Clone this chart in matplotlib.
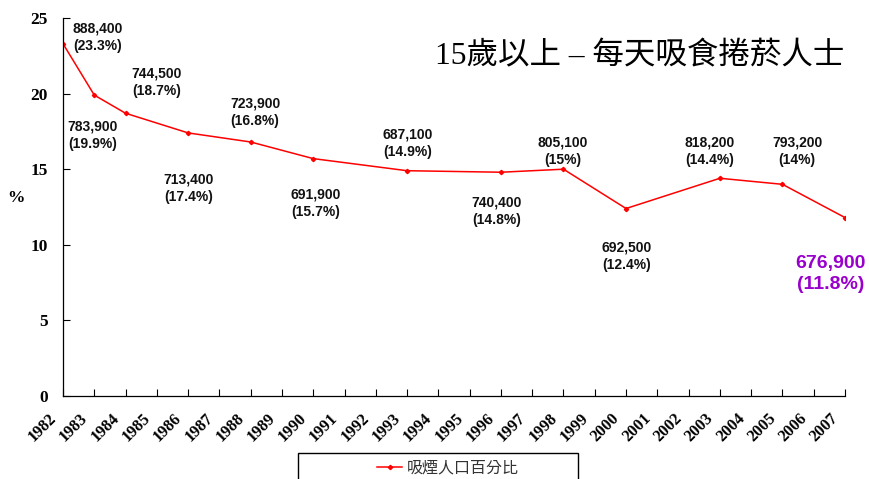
import numpy as np
import matplotlib
matplotlib.use("Agg")
import matplotlib.pyplot as plt
from matplotlib.patches import Rectangle

years = [str(y) for y in range(1982, 2008)]
survey_years = ['1982', '1983', '1984', '1986', '1988', '1990', '1993',
                '1996', '1998', '2000', '2003', '2005', '2007']
pct = [23.3, 19.9, 18.7, 17.4, 16.8, 15.7, 14.9, 14.8, 15.0, 12.4, 14.4, 14.0, 11.8]
smokers = ['888,400', '783,900', '744,500', '713,400', '723,900', '691,900',
           '687,100', '740,400', '805,100', '692,500', '818,200', '793,200',
           '676,900']
pct_txt = ['23.3%', '19.9%', '18.7%', '17.4%', '16.8%', '15.7%', '14.9%',
           '14.8%', '15%', '12.4%', '14.4%', '14%', '11.8%']
# label centres (category index, value)
label_pos = [(1.12, 23.74), (0.96, 17.26), (3.0, 20.77), (4.03, 13.76),
             (6.14, 18.78), (8.09, 12.76), (11.03, 16.73), (13.87, 12.24),
             (15.98, 16.2), (18.03, 9.26), (20.68, 16.2), (23.47, 16.2),
             (24.55, 8.07)]

CJK = ['Noto Sans CJK TC', 'DejaVu Sans']
RED = '#FF0000'
PURPLE = '#9900CC'

fig = plt.figure(figsize=(8.69, 4.79), dpi=100)
ax = fig.add_axes([63 / 869, 1 - 396 / 479, (845 - 63) / 869, (396 - 18) / 479])

xi = [years.index(y) for y in survey_years]
line, = ax.plot(xi, pct, color=RED, lw=1.1, marker='D', ms=2.2,
                label='吸煙人口百分比')

for k, (s, p) in enumerate(zip(smokers, pct_txt)):
    lx, ly = label_pos[k]
    last = k == len(smokers) - 1
    ax.text(lx, ly, '%s\n(%s)' % (s, p), ha='center', va='center',
            family='Liberation Sans', weight='bold',
            fontsize=14 if last else 10,
            color=PURPLE if last else '#111111', linespacing=1.3,
            clip_on=False)

ax.set_xlim(0, len(years) - 1)
ax.set_ylim(0, 25)
ax.set_xticks(range(len(years)))
ax.set_xticklabels([])
# year labels, nudged left of their ticks like the original
for i, y in enumerate(years):
    ax.annotate(y, xy=(i, 0), xycoords=('data', 'axes fraction'),
                xytext=(-10.5, -10.5), textcoords='offset points',
                rotation=45, ha='right', va='top', rotation_mode='anchor',
                family='Liberation Serif', weight='bold', fontsize=11.8,
                annotation_clip=False)
ax.set_yticks([0, 5, 10, 15, 20, 25])
ax.set_yticklabels(['0', '5', '10', '15', '20', '25'],
                   family='Liberation Serif', weight='bold', fontsize=12.5)
ax.tick_params(axis='both', direction='in', length=5, width=0.8)
ax.tick_params(axis='y', pad=11)
ax.spines['top'].set_visible(False)
ax.spines['right'].set_visible(False)
for sp in ('left', 'bottom'):
    ax.spines[sp].set_linewidth(0.9)

fig.text(16 / 869, 1 - 198 / 479, '%', family='Liberation Serif',
         weight='bold', fontsize=12.5, ha='center', va='center')

fig.text(640 / 869, 1 - 57 / 479, '15歲以上 – 每天吸食捲菸人士',
         family=['Liberation Serif', 'Noto Sans CJK TC'],
         fontsize=22.7, ha='center', va='center')

# legend box, cut by the bottom edge
fig.patches.append(Rectangle((298 / 869, -0.05), 280 / 869, (479 - 453) / 479 + 0.05,
                             transform=fig.transFigure, fill=False,
                             edgecolor='black', lw=1.0))
leg = fig.legend(handles=[line], loc='center', bbox_to_anchor=(448 / 869, 1 - 468 / 479),
                 frameon=False, prop={'family': CJK, 'size': 11.5},
                 handlelength=1.6, handletextpad=0.3, markerscale=1.0)
for t in leg.get_texts():
    t.set_color('#333333')

fig.savefig('out.png', dpi=100)
